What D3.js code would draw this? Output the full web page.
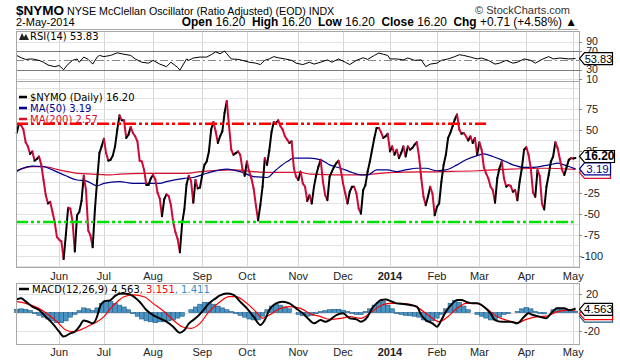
<!DOCTYPE html>
<html><head><meta charset="utf-8">
<script src="https://cdn.jsdelivr.net/npm/d3@7"></script>
<style>body{margin:0;background:#fff}svg{display:block}</style>
</head><body><svg id="c" width="620" height="360"></svg>
<script>
// ---------- DATA (trading-day index 0..250 : early May 2013 .. 2-May-2014) ----------
const nymo = [
 46, 57, 55, 50, 35, 30, 21, 24, 13, 15,
 18, 8, -10, -28, -38, -36, -48, -60, -78, -81,
 -83, -104, -75, -43, -44, -60, -95, -52, -48, -35,
 -5, -22, -70, -76, -90, -45, -10, 22, 30, 39,
 22, 13, 14, 19, 30, 50, 67, 61, 61, 40,
 44, 53, 46, 42, 36, 13, 12, 2, -16, -16,
 -8, -4, -9, -25, -32, -53, -33, -27, -29, -40,
 -60, -72, -80, -96, -62, -45, -15, -5, -11, -37,
 -10, -20, -19, -4, 8, 12, 24, 50, 59, 48,
 34, 42, 48, 70, 84, 54, 26, 20, 22, 24,
 20, 3, -5, 12, 0, -8, -20, -40, -58, -40,
 -18, 16, 8, 25, 47, 59, 58, 61, 54, 50,
 42, 38, 34, 36, 4, -6, -10, 0, -14, -18,
 -35, -28, -38, -18, -4, 6, 14, -12, -28, -34,
 -6, 0, 6, 10, 13, 2, -14, -26, -38, -24,
 -18, -18, -26, -44, -50, -22, -16, 0, 12, 26,
 40, 52, 52, 47, 40, 42, 45, 24, 30, 20,
 26, 16, 22, 30, 18, 30, 26, 28, 32, 35,
 18, -8, -30, -40, -30, -18, -26, -52, -42, -38,
 -12, 8, 20, 40, 46, 54, 62, 68, 50, 45,
 46, 42, 37, 42, 34, 40, 20, 35, 26, 5,
 -2, -8, -18, -22, -37, -8, 4, 12, -8, -18,
 -16, -17, -24, -22, -34, -12, 4, 26, 29, 20,
 4, -25, -30, 2, -5, -38, -45, -18, -4, 12,
 18, 35, 28, 15, 2, -4, 5, 14, 16, 15.49, 16.2
];
const ma50 = [[0,0],[2,3.2],[7,6.5],[12,6],[16,2],[22,-5],[27,-10],[31,-11],[36,-17],[39,-14],[46,-12],[52,-14],[58,-14],[64,-14],[67,-12],[75,-8],[79,-7],[85,-2],[94,3],[100,0],[106,-6],[112,-7],[116,2],[121,12],[124,16],[131,16],[136,14],[140,8],[145,4],[149,0],[154,-4],[157,-4],[161,2],[166,2],[170,0],[174,2],[179,4],[183,4],[188,1],[192,2],[197,8],[201,14],[206,19],[209,21],[213,18],[217,14],[222,8],[227,5],[231,5],[236,7],[240,9],[242,10],[246,7],[250,3.19]];
const ma200 = [[0,1.2],[7,6],[12,6],[19,2],[27,-2],[34,-3],[42,-4],[46,-3],[57,-2],[76,-2],[82,0],[97,2],[106,0],[112,-1],[127,-1],[131,-3],[154,-4],[168,-1],[191,0],[206,1],[221,3],[236,4],[250,2.57]];
const rsi = [[0,60.5],[2,55.5],[4,52],[7,53],[10,50],[12,46],[14,40],[17,36.5],[19,39],[21,30],[23,42],[25,50],[27,53],[28,46],[30,57],[32,52],[34,42],[36,57],[37,60.5],[39,58],[42,60.5],[45,66],[48,63],[51,60.5],[53,53],[56,46],[59,44],[61,50],[64,42],[67,36.5],[69,46],[72,35],[73,29],[76,53],[77,50],[79,55],[82,57],[85,57],[87,62],[89,68],[91,64],[93,70],[94,64],[96,53],[99,52],[101,50],[104,46],[107,44],[109,41],[111,50],[113,53],[115,58],[117,55.5],[120,53],[123,50],[125,44],[128,41],[131,46],[133,42],[136,46],[139,51],[141,46],[144,53],[147,46],[149,41],[152,50],[155,55.5],[157,52],[160,60.5],[162,65.6],[164,63],[166,60.5],[167,53],[170,53],[173,51],[175,55],[178,50],[181,51],[183,36.5],[185,42],[188,44],[190,50],[193,53],[196,58],[198,62],[200,60.5],[203,57],[206,53],[208,55],[211,50],[214,42],[216,44],[219,50],[222,44],[224,46],[227,53],[230,50],[232,44],[235,52],[238,58],[240,53],[243,55],[247,53],[250,53.83]];
const macdLine = [[0,14.2],[2,15.3],[4,12],[7,6.3],[10,2.7],[13,-4.5],[16,-11.7],[19,-20.7],[21,-26],[24,-22.5],[26,-20.7],[28,-15.3],[30,-8.5],[32,-9.9],[34,-11.7],[36,-4],[37,4.5],[39,11.7],[42,13.5],[44,18],[47,20.5],[50,20],[53,16],[55,11.7],[58,2.7],[61,-2.7],[64,-6.3],[67,-9.9],[70,-15.3],[73,-21.8],[75,-19],[77,-12],[80,-6.3],[83,1],[86,9.9],[89,15.3],[91,18.5],[94,20.5],[97,19],[100,11.7],[103,4.5],[106,-4.5],[109,-13.5],[111,-8.1],[113,2.7],[116,9.9],[119,11.7],[122,9.9],[125,4.5],[128,-0.9],[131,-8.1],[133,-11.7],[136,-8.1],[138,-9.9],[140,-8.1],[143,-2.7],[146,-0.9],[149,-6.3],[152,-7.4],[154,-9.9],[157,-4.5],[159,4.5],[161,9.9],[163,13.5],[165,14.2],[168,11.7],[170,9.9],[173,9.2],[176,8.1],[179,6.3],[181,-2.7],[183,-8.1],[186,-11.7],[188,-15.3],[190,-8.1],[192,0.9],[195,9.9],[197,13.5],[199,13.5],[201,11.7],[204,9.9],[206,9.9],[209,6.3],[212,-0.9],[214,-8.1],[217,-9.9],[221,-9.9],[224,-11.7],[227,-4.5],[229,-0.9],[231,-2.7],[234,-4.5],[237,-6.3],[239,-0.9],[242,4.5],[245,4.5],[247,2.7],[249,3.4],[250,4.563]];
const macdSignal = [[0,11.7],[4,9.9],[9,5.6],[13,-0.2],[18,-9.9],[22,-18.9],[25,-20.7],[29,-18.2],[33,-13.5],[36,-9.9],[39,-4.5],[42,4.5],[45,11.7],[48,17.1],[52,19],[57,17.1],[61,9.9],[66,0.9],[70,-8.1],[74,-15.3],[78,-17.1],[82,-11.7],[86,0.9],[91,11.7],[95,17.1],[98,17.1],[103,9.9],[107,0.9],[110,-6.3],[113,-2.7],[118,4.5],[122,6.3],[127,4.5],[131,-1],[136,-4.5],[140,-7.4],[145,-6.3],[149,-4.5],[154,-6.3],[158,-0.9],[162,6.3],[167,9.9],[171,9.9],[176,8.8],[180,4.5],[185,-4.5],[189,-9.9],[192,-6.3],[197,4.5],[201,9.9],[206,9.9],[210,4.5],[215,-4.5],[219,-8.1],[224,-11],[228,-7.4],[233,-4.5],[237,-3.8],[242,0.9],[246,2.7],[249,2.6],[250,3.151]];
// histogram, every 2nd trading day (index 0,2,...,250)
const macdHist = [
 3.5, 4, 3.5, 2, -1, -3, -5, -7, -9, -11,
 -11, -9, -5, -2, 2, 5, 4, 2, 5, 10,
 13, 12, 10, 8, 6, 3, -1, -4, -7, -9,
 -10, -11, -10, -10, -9, -8, -6, -4, 0, 3,
 6, 9, 11, 11, 9, 7, 5, 3, 1, -1,
 -3, -5, -7, -8, -8, -4, 3, 7, 9, 8,
 6, 4, 0, -2, -3.5, -4, -3, -1, 1, 2,
 3, 3.5, 3.5, 2.5, 1, -1, -2, -2, 1, 4,
 8, 11, 12, 8, 4, -1, -2, -3, -3.5, -4,
 -5, -8, -10, -9, -6, -2, 4, 10, 13, 11,
 7, 3, 0, -2, -4, -6, -8, -8, -5, -2,
 -1, 0, 1, 4, 5.5, 4, 1, -1, -1.5, 0,
 3, 5, 4.5, 2, 1.5, 1.411
];
const monthTicks = [19,39,61,83,103,126,146,167,188,207,228,249];
const monthLabels = ["Jun","Jul","Aug","Sep","Oct","Nov","Dec","2014","Feb","Mar","Apr","May"];
const mainTicks = [75,50,25,-25,-50,-75,-100];
const mainGrid = [100,87.5,75,62.5,50,37.5,25,12.5,0,-12.5,-25,-37.5,-50,-62.5,-75,-87.5,-100,-112.5];
const rsiTicks = [90,70,30,10];
const macdTicks = [20,-20];
const macdGrid = [20,0,-20];
const levels = {upper: 57, lower: -60, upperEnd: 210, lowerEnd: 249};

// ---------- LAYOUT ----------
const L = 16, R = 579;
const P = {rsi:[31,81], main:[81,267], macd:[283,344]};
const svg = d3.select("#c");
const x = d3.scaleLinear().domain([0,250]).range([16.7,575.5]);
const yMain = d3.scaleLinear().domain([-113.5,106.6]).range([267,82]);
const yRsi = d3.scaleLinear().domain([10,90]).range([79.1,41.6]);
const yMacd = d3.scaleLinear().domain([-34,31.9]).range([344,283]);
const AX = "Liberation Sans, Arial, sans-serif";
const LG = "DejaVu Sans, Verdana, sans-serif";
const CRIM = "#cc0a3a";

// header
const hd = svg.append("g").attr("font-family", AX).attr("fill","#000");
const t1 = hd.append("text").attr("x",16).attr("y",15).attr("font-size",10.7);
t1.append("tspan").attr("font-weight","bold").attr("font-size",13.5).text("$NYMO");
t1.append("tspan").text(" NYSE McClellan Oscillator (Ratio Adjusted) (EOD) INDX");
hd.append("text").attr("x",570).attr("y",14).attr("text-anchor","end").attr("font-size",11).attr("fill","#333").text("© StockCharts.com");
hd.append("text").attr("x",16).attr("y",26).attr("font-size",11).text("2-May-2014");
const t2 = hd.append("text").attr("x",577).attr("y",26).attr("text-anchor","end").attr("font-size",11.9)
  .attr("xml:space","preserve");
[["Open"," 16.20  "],["High"," 16.20  "],["Low"," 16.20  "],["Close"," 16.20  "],["Chg"," +0.71 (+4.58%) ▲"]].forEach(([a,b])=>{
  t2.append("tspan").attr("font-weight","bold").text(a);
  t2.append("tspan").text(b);
});
svg.append("line").attr("x1",16).attr("x2",578).attr("y1",29.5).attr("y2",29.5).attr("stroke","#aaa");

// helpers
function vgrid(top,bot){
  svg.append("g").selectAll("line").data(monthTicks).join("line")
    .attr("x1",d=>Math.round(x(d))+0.5).attr("x2",d=>Math.round(x(d))+0.5)
    .attr("y1",top).attr("y2",bot).attr("stroke","#d6d6d6");
}
function hgrid(vals,y){
  svg.append("g").selectAll("line").data(vals).join("line")
    .attr("x1",L).attr("x2",R).attr("y1",d=>Math.round(y(d))+0.5).attr("y2",d=>Math.round(y(d))+0.5)
    .attr("stroke","#e2e2e2");
}
function border(top,bot){
  svg.append("rect").attr("x",L+0.5).attr("y",top+0.5).attr("width",R-L).attr("height",bot-top)
    .attr("fill","none").attr("stroke","#a8a8a8");
}
function rightLabels(vals,y,fs){
  const g = svg.append("g").attr("font-family",AX).attr("font-size",fs||11).attr("fill","#222");
  g.selectAll("text").data(vals).join("text").attr("x",592).attr("y",d=>y(d)+(fs?3.7:4))
    .attr("text-anchor","middle").text(d=>d);
  g.selectAll("line").data(vals).join("line").attr("x1",R).attr("x2",R+3)
    .attr("y1",d=>Math.round(y(d))+0.5).attr("y2",d=>Math.round(y(d))+0.5).attr("stroke","#888");
}
function valueBox(yc,txt,color,bold,w,fs){
  const x0=R+0.5, h=6;
  svg.append("path").attr("d",`M${x0},${yc} L${x0+5},${yc-h} L${x0+5+w},${yc-h} L${x0+5+w},${yc+h} L${x0+5},${yc+h} Z`)
    .attr("fill","#fff").attr("stroke",color).attr("stroke-width",1.2);
  if(txt) svg.append("text").attr("x",x0+5+w/2).attr("y",yc+4).attr("text-anchor","middle")
    .attr("font-family",AX).attr("font-size",fs||(bold?12:11.5)).attr("font-weight",bold?"bold":"normal")
    .attr("fill",color).text(txt);
}

// ---------- RSI PANEL ----------
vgrid(P.rsi[0],P.rsi[1]);
hgrid([90,10],yRsi);
svg.append("g").selectAll("line").data([70,30]).join("line")
  .attr("x1",L).attr("x2",R).attr("y1",d=>Math.round(yRsi(d))+0.5).attr("y2",d=>Math.round(yRsi(d))+0.5)
  .attr("stroke","#7a7a7a");
svg.append("line").attr("x1",L).attr("x2",R).attr("y1",Math.round(yRsi(50))+0.5).attr("y2",Math.round(yRsi(50))+0.5)
  .attr("stroke","#888").attr("stroke-dasharray","8,3,2,3");
svg.append("path").datum(rsi).attr("fill","none").attr("stroke","#000").attr("stroke-width",1)
  .attr("d",d3.line().x(d=>x(d[0])).y(d=>yRsi(d[1])));
border(P.rsi[0],P.rsi[1]);
rightLabels(rsiTicks,yRsi,10.5);
svg.append("path").attr("d","M19,40 L22,33 L24,37 L26,34 L29,40 Z").attr("fill","#222");
svg.append("text").attr("x",30).attr("y",40).attr("font-family",LG).attr("font-size",10).text("RSI(14) 53.83");
valueBox(yRsi(53.83),"53.83","#000",false,28,11);

// ---------- MAIN PANEL ----------
vgrid(P.main[0],P.main[1]);
hgrid(mainGrid,yMain);
const mline = d3.line().x(d=>x(d[0])).y(d=>yMain(d[1])).curve(d3.curveMonotoneX);
svg.append("path").datum(ma200).attr("fill","none").attr("stroke","#d8102e").attr("stroke-width",1.2).attr("d",mline);
svg.append("path").datum(ma50).attr("fill","none").attr("stroke","#00008b").attr("stroke-width",1.2).attr("d",mline);
const segs = d3.range(1,nymo.length).map(i=>({i, up: nymo[i]>=nymo[i-1]}));
svg.append("g").selectAll("line").data(segs).join("line")
  .attr("x1",d=>x(d.i-1)).attr("y1",d=>yMain(nymo[d.i-1]))
  .attr("x2",d=>x(d.i)).attr("y2",d=>yMain(nymo[d.i]))
  .attr("stroke",d=>d.up?"#000":CRIM).attr("stroke-width",2).attr("stroke-linecap","round");
svg.append("line").attr("x1",L).attr("x2",x(levels.upperEnd)).attr("y1",yMain(levels.upper)).attr("y2",yMain(levels.upper))
  .attr("stroke","#ff0000").attr("stroke-width",2.5).attr("stroke-dasharray","12,3,3,3,3,3");
svg.append("line").attr("x1",L).attr("x2",x(levels.lowerEnd)).attr("y1",yMain(levels.lower)).attr("y2",yMain(levels.lower))
  .attr("stroke","#00e000").attr("stroke-width",2.5).attr("stroke-dasharray","12,3,3,3,3,3");
border(P.main[0],P.main[1]);
rightLabels(mainTicks,yMain);
const lg = [["$NYMO (Daily) 16.20","#000",101],["MA(50) 3.19","#00008b",112],["MA(200) 2.57","#d8102e",123]];
lg.forEach(([t,c,yy])=>{
  svg.append("line").attr("x1",19).attr("x2",27).attr("y1",yy-4).attr("y2",yy-4).attr("stroke",c).attr("stroke-width",2.5);
  svg.append("text").attr("x",30).attr("y",yy).attr("font-family",LG).attr("font-size",10).attr("fill",c).text(t);
});
valueBox(yMain(2.57)+3,"","#d8102e",false,26);
valueBox(yMain(3.19),"3.19","#00008b",false,26);
valueBox(yMain(16.2)-1.5,"16.20","#000",true,30);

function monthAxis(yy){
  svg.append("g").attr("font-family",AX).attr("font-size",11).attr("fill","#222")
    .selectAll("text").data(monthTicks).join("text")
    .attr("x",d=>x(d)).attr("y",yy).attr("text-anchor","middle")
    .attr("font-weight",(d,i)=>monthLabels[i]==="2014"?"bold":"normal")
    .text((d,i)=>monthLabels[i]);
}
monthAxis(280);

// ---------- MACD PANEL ----------
vgrid(P.macd[0],P.macd[1]);
hgrid(macdGrid,yMacd);
const bw = x(2)-x(0);
svg.append("g").selectAll("rect").data(macdHist).join("rect")
  .attr("x",(d,k)=>x(k*2)-bw/2).attr("width",bw)
  .attr("y",d=>Math.min(yMacd(d),yMacd(0))).attr("height",d=>Math.abs(yMacd(d)-yMacd(0)))
  .attr("fill","#4a94c4").attr("stroke","#1d5a86").attr("stroke-width",0.6);
const cl = d3.line().x(d=>x(d[0])).y(d=>yMacd(d[1])).curve(d3.curveMonotoneX);
svg.append("path").datum(macdSignal).attr("fill","none").attr("stroke","#ff0000").attr("stroke-width",1.2).attr("d",cl);
svg.append("path").datum(macdLine).attr("fill","none").attr("stroke","#000").attr("stroke-width",2).attr("d",cl);
border(P.macd[0],P.macd[1]);
rightLabels(macdTicks,yMacd);
svg.append("line").attr("x1",19).attr("x2",29).attr("y1",289).attr("y2",289).attr("stroke","#000").attr("stroke-width",2.5);
const ml = svg.append("text").attr("x",32).attr("y",293).attr("font-family",LG).attr("font-size",10);
ml.append("tspan").attr("fill","#000").text("MACD(12,26,9) 4.563");
ml.append("tspan").attr("fill","#ff0000").text(", 3.151");
ml.append("tspan").attr("fill","#3a8cc4").text(", 1.411");
valueBox(yMacd(1.411)+5,"","#1d5a86",false,28);
valueBox(yMacd(3.151)+4,"","#ff0000",false,28);
valueBox(yMacd(4.563)+1,"4.563","#000",false,28);
monthAxis(356);
</script></body></html>
